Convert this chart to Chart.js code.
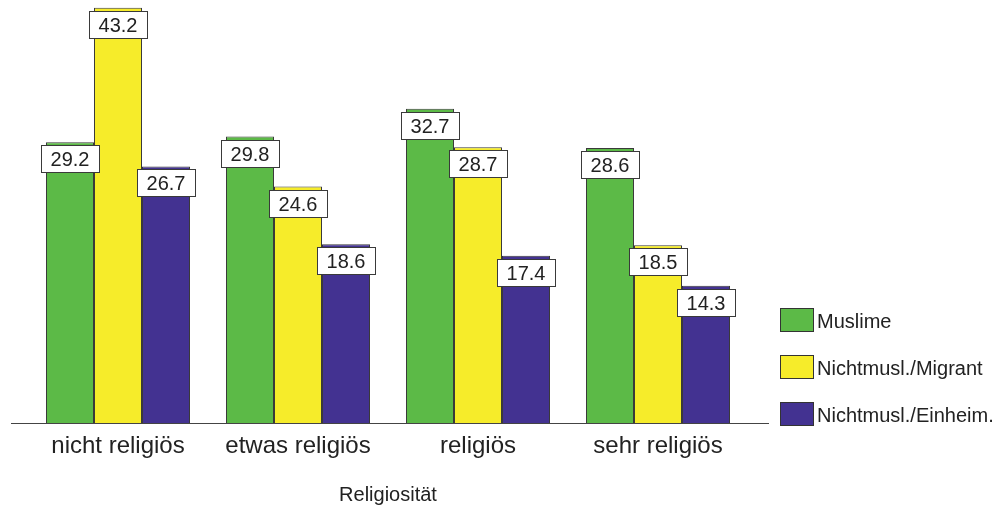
<!DOCTYPE html>
<html>
<head>
<meta charset="utf-8">
<script src="https://cdn.jsdelivr.net/npm/chart.js@4/dist/chart.umd.min.js"></script>
<style>
  html, body { margin: 0; padding: 0; background: #fff; }
  #wrap { width: 997px; height: 508px; position: relative; }
</style>
</head>
<body>
<div id="wrap"><canvas id="myChart"></canvas></div>
<script>
// values
const categories = ["nicht religiös", "etwas religiös", "religiös", "sehr religiös"];
const seriesNames = ["Muslime", "Nichtmusl./Migrant", "Nichtmusl./Einheim."];
const muslime = [29.2, 29.8, 32.7, 28.6];
const migrant = [43.2, 24.6, 28.7, 18.5];
const einheim = [26.7, 18.6, 17.4, 14.3];
const colors = ["#5cba47", "#f6ec2a", "#433291"];

const FONT = "'Liberation Sans', Arial, sans-serif";

// white boxes with the value, hanging just below each bar top
const valueBoxes = {
  id: "valueBoxes",
  afterDatasetsDraw(chart) {
    const ctx = chart.ctx;
    ctx.save();
    ctx.font = "20px " + FONT;
    ctx.textAlign = "center";
    ctx.textBaseline = "middle";
    chart.data.datasets.forEach((ds, i) => {
      chart.getDatasetMeta(i).data.forEach((bar, j) => {
        const w = 58, h = 27;
        const x = Math.round(bar.x - w / 2) + 0.5;
        const y = Math.round(bar.y + 3) + 0.5;
        ctx.fillStyle = "#fff";
        ctx.fillRect(x, y, w, h);
        ctx.strokeStyle = "#3a3a3a";
        ctx.lineWidth = 1;
        ctx.strokeRect(x, y, w, h);
        ctx.fillStyle = "#222";
        ctx.fillText(ds.data[j].toFixed(1), bar.x, y + h / 2 + 1);
      });
    });
    ctx.restore();
  }
};

// baseline running a little past the bars, plus the legend on the right
const extras = {
  id: "extras",
  afterDraw(chart) {
    const ctx = chart.ctx;
    const yb = Math.round(chart.scales.y.getPixelForValue(0)) + 0.5;
    ctx.save();
    ctx.strokeStyle = "#444";
    ctx.lineWidth = 1.2;
    ctx.beginPath();
    ctx.moveTo(11, yb);
    ctx.lineTo(769, yb);
    ctx.stroke();

    ctx.font = "20px " + FONT;
    ctx.textBaseline = "middle";
    ctx.textAlign = "left";
    chart.data.datasets.forEach((ds, i) => {
      const top = 308 + i * 47;
      ctx.fillStyle = ds.backgroundColor;
      ctx.fillRect(780.5, top + 0.5, 33, 23);
      ctx.strokeStyle = "#333";
      ctx.lineWidth = 1;
      ctx.strokeRect(780.5, top + 0.5, 33, 23);
      ctx.fillStyle = "#222";
      ctx.fillText(ds.label, 817, top + 14);
    });
    ctx.restore();
  }
};

const datasets = [muslime, migrant, einheim].map((vals, i) => ({
  label: seriesNames[i],
  data: vals,
  backgroundColor: colors[i],
  borderColor: "#3a3a3a",
  borderWidth: { top: 1, left: 1, right: 1, bottom: 0 },
  borderSkipped: "bottom",
  categoryPercentage: 0.8,
  barPercentage: 1.0
}));

new Chart(document.getElementById("myChart"), {
  type: "bar",
  data: { labels: categories, datasets: datasets },
  options: {
    responsive: true,
    maintainAspectRatio: false,
    animation: false,
    layout: { padding: { left: 28, right: 249, top: 0, bottom: 0 } },
    plugins: {
      legend: { display: false },
      tooltip: { enabled: false }
    },
    scales: {
      x: {
        grid: { display: false, drawTicks: false },
        border: { display: false },
        ticks: {
          color: "#222",
          padding: 9,
          font: { family: FONT, size: 24 }
        },
        title: {
          display: true,
          text: "Religiosität",
          color: "#222",
          font: { family: FONT, size: 20 },
          padding: { top: 13, bottom: 1 }
        }
      },
      y: {
        display: false,
        min: 0,
        max: 44
      }
    }
  },
  plugins: [valueBoxes, extras]
});
</script>
</body>
</html>
